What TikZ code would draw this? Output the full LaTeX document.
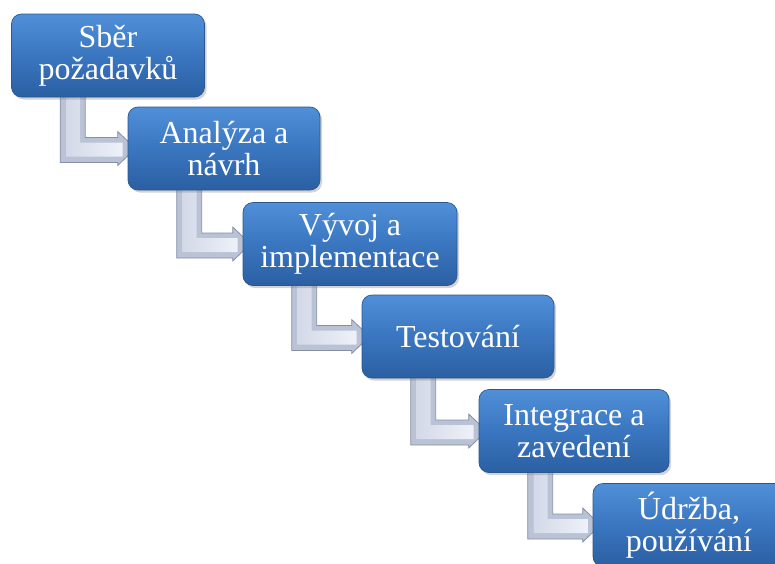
\documentclass[tikz,border=0pt]{standalone}
\usepackage{fontspec}
\setmainfont{Liberation Serif}
\usetikzlibrary{calc,shadows,backgrounds}

\definecolor{boxtop}{HTML}{5090D8}
\definecolor{boxmid}{HTML}{3A76C0}
\definecolor{boxbot}{HTML}{2B5FA2}
\definecolor{boxedge}{HTML}{2A5790}
\definecolor{arrowface}{HTML}{BAC2D6}
\definecolor{arrowlight}{HTML}{EEF1F8}
\definecolor{arrowmid}{HTML}{D3D9E8}
\definecolor{arrowedge}{HTML}{868FA2}

\tikzset{
  stage/.style={rounded corners=10pt, draw=boxedge, line width=0.7pt,
    top color=boxtop, bottom color=boxbot, middle color=boxmid,
    text=white, font=\fontsize{32}{32}\selectfont, align=center,
    minimum height=83pt, inner sep=2pt,
    drop shadow={opacity=0.35, shadow xshift=2pt, shadow yshift=-2.5pt}},
  arrowbody/.style={fill=arrowface, draw=arrowedge, line width=0.8pt, line join=miter},
  arrowbevel/.style={left color=arrowmid, right color=arrowlight, draw=none}
}

% elbow arrow leaving the bottom of #1 and entering the left side of #2
\newcommand{\bentarrow}[2]{%
  \path ($(#1.south west)+(49,-4)$) coordinate (a1)
        ($(#1.south west)+(74,-4)$) coordinate (a2)
        ($(#2.west)+(-10,14)$) coordinate (h1)
        ($(#2.west)+(-10,17)$) coordinate (h2)
        ($(#2.west)+(8,0)$) coordinate (h3)
        ($(#2.west)+(-10,-17)$) coordinate (h4)
        ($(#2.west)+(-10,-11)$) coordinate (h5)
        ($(#1.south west)+(55,-4)$) coordinate (i1)
        ($(#1.south west)+(69,-4)$) coordinate (i2)
        ($(#2.west)+(-5,8)$) coordinate (j1)
        ($(#2.west)+(-5,-6)$) coordinate (j2);
  \draw[arrowbody] (a1) -- (a1 |- h1) -- (h1) -- (h2) -- (h3) -- (h4)
    -- (h5) -- (a2 |- h5) -- (a2) -- cycle;
  \shade[arrowbevel] (i1) -- (i1 |- j1) -- (j1) -- (j2) -- (i2 |- j2)
    -- (i2) -- cycle;
}

\begin{document}
\begin{tikzpicture}[x=1pt, y=-1pt]
  \useasboundingbox (0,0) rectangle (775,563);
  \clip (0,0) rectangle (775,563);

  \node[stage, minimum width=193pt] (b1) at (108,55.5) {Sběr\\požadavků};
  \node[stage, minimum width=192pt] (b2) at (224,148.5) {Analýza a\\návrh};
  \node[stage, minimum width=214pt] (b3) at (350,244) {Vývoj a\\implementace};
  \node[stage, minimum width=192pt] (b4) at (458,336.5) {Testování};
  \node[stage, minimum width=190pt] (b5) at (574,431) {Integrace a\\zavedení};
  \node[stage, minimum width=192pt] (b6) at (689,525) {Údržba,\\používání};

  % connectors sit behind the stage boxes
  \begin{scope}[on background layer]
    \bentarrow{b1}{b2}
    \bentarrow{b2}{b3}
    \bentarrow{b3}{b4}
    \bentarrow{b4}{b5}
    \bentarrow{b5}{b6}
  \end{scope}
\end{tikzpicture}
\end{document}
